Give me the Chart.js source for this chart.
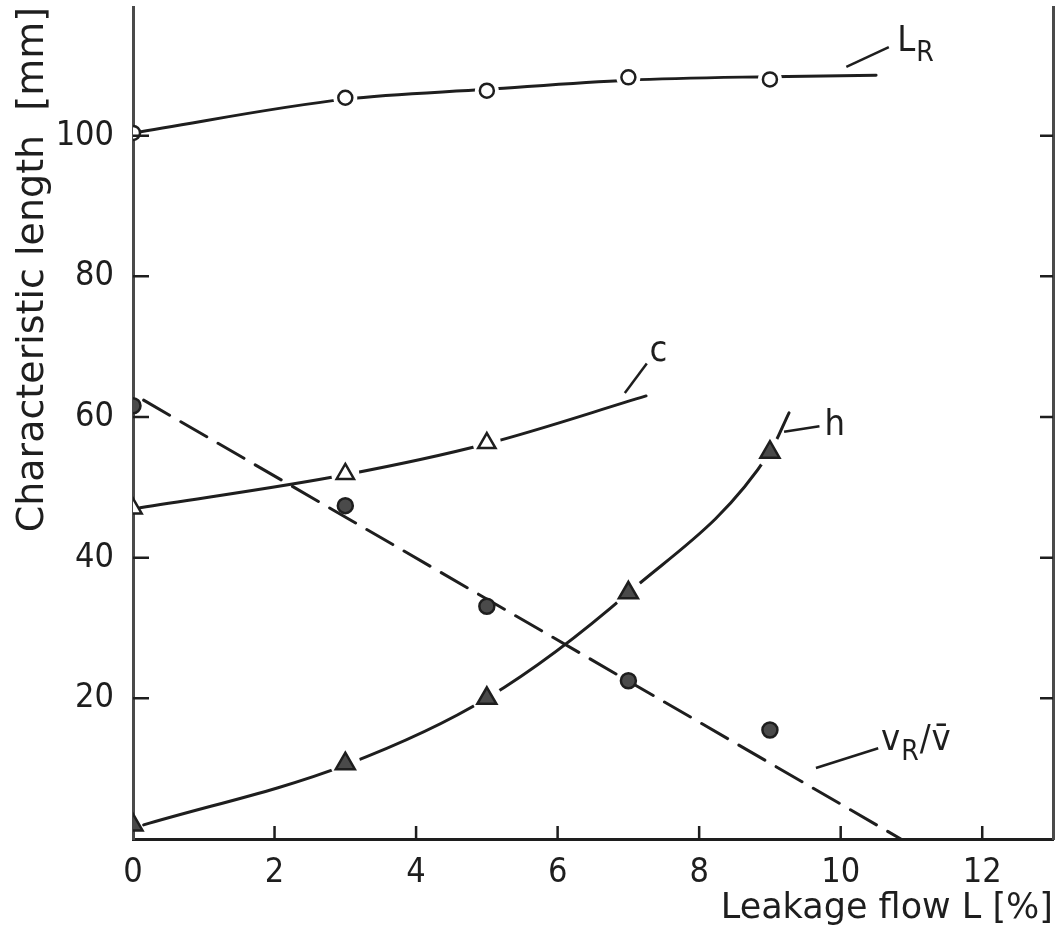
<!DOCTYPE html>
<html>
<head>
<meta charset="utf-8">
<script src="https://cdn.jsdelivr.net/npm/chart.js@4.4.1/dist/chart.umd.min.js"></script>
<style>
 html,body{margin:0;padding:0;background:#fff;overflow:hidden;}
 #wrap{width:1064px;height:934px;position:relative;}
 #chart{display:block;}
</style>
</head>
<body>
<div id="wrap"><canvas id="chart"></canvas></div>
<script>
const FONT = '"DejaVu Sans Condensed", "Liberation Sans", sans-serif';
const TITLE_FONT = '"DejaVu Sans", "Liberation Sans", sans-serif';
const INK = "#1e1e1e";
const AXIS = "#4a4a4a";

// measured points: leakage flow [%] vs characteristic length [mm]
const leakage = [0, 3, 5, 7, 9];
const lR = [100.4, 105.4, 106.4, 108.3, 108.0];
const cLeak = [0, 3, 5];
const cLen = [47, 51.9, 56.3];
const vRatio = [61.6, 47.4, 33.1, 22.5, 15.5];
const hLen = [2, 10.7, 20, 35, 55];

// hand drawn fit curves
const lRCurveX = [0, 3, 5, 7, 9, 10.5];
const lRCurveY = [100.4, 105.2, 106.6, 107.9, 108.4, 108.6];
const cCurveX = [0.1, 3, 5, 7.25];
const cCurveY = [47.1, 51.8, 56.2, 63];
const vCurveX = [0.15, 10.85];
const vCurveY = [62.4, 0];
const hCurveX = [0.15, 3, 5, 7, 9, 9.27];
const hCurveY = [2.0, 10.5, 20, 35, 55, 60.6];

const xTicks = [2, 4, 6, 8, 10, 12];
const yTicks = [20, 40, 60, 80, 100];

// curve tags: text parts [text, isSubscript], anchor and leader line in data units
const curveTags = [
 {parts:[["L",0],["R",1]], x:10.8, y:112.0, from:[10.08,109.8], to:[10.68,112.6]},
 {parts:[["c",0]], x:7.3, y:68.0, from:[6.95,63.4], to:[7.26,67.6]},
 {parts:[["h",0]], x:9.77, y:57.4, from:[9.2,57.9], to:[9.7,58.7]},
 {parts:[["v",0],["R",1],["/",0],["v\u0304",0]], x:10.57, y:12.7, from:[9.65,10.1], to:[10.53,12.9]}
];

const zip = (xs, ys) => xs.map((x,i)=>({x:x, y:ys[i]}));

function curve(xs, ys, dash){
 return {
  type:"scatter", data:zip(xs, ys), showLine:true,
  borderColor:INK, borderWidth:3, borderDash:dash || [],
  borderCapStyle:"round", pointRadius:0,
  cubicInterpolationMode:"monotone", order:3
 };
}

function halo(xs, ys, r){
 return {
  type:"scatter", data:zip(xs, ys), showLine:false,
  pointRadius:ctx => (ctx.raw && ctx.raw.x > 0 ? r : 0),
  pointBackgroundColor:"#fff", pointBorderWidth:0, order:2
 };
}

function marks(xs, ys, style, r, fill){
 return {
  type:"scatter", data:zip(xs, ys), showLine:false,
  pointStyle:style, pointRadius:r,
  pointBackgroundColor:fill, pointBorderColor:INK, pointBorderWidth:2.5,
  order:1
 };
}

// no automatic label overhang padding, the plot box is fixed
function noPad(s){
 s.paddingTop = 0; s.paddingBottom = 0;
 s.paddingLeft = 0; s.paddingRight = 0;
}

const insideTicks = {
 id:"insideTicks",
 afterDatasetsDraw(chart){
  const {ctx, chartArea:a, scales:{x, y}} = chart;
  ctx.save();
  ctx.strokeStyle = INK;
  ctx.lineWidth = 2.5;
  ctx.beginPath();
  xTicks.forEach(v=>{
   const px = x.getPixelForValue(v);
   ctx.moveTo(px, a.bottom); ctx.lineTo(px, a.bottom-13);
  });
  yTicks.forEach(v=>{
   const py = y.getPixelForValue(v);
   ctx.moveTo(a.left, py); ctx.lineTo(a.left+16, py);
   ctx.moveTo(a.right, py); ctx.lineTo(a.right-13, py);
  });
  ctx.stroke();

  // curve tags
  curveTags.forEach(t=>{
   ctx.beginPath();
   ctx.lineWidth = 2.5;
   ctx.moveTo(x.getPixelForValue(t.from[0]), y.getPixelForValue(t.from[1]));
   ctx.lineTo(x.getPixelForValue(t.to[0]), y.getPixelForValue(t.to[1]));
   ctx.stroke();
   let px = x.getPixelForValue(t.x);
   const py = y.getPixelForValue(t.y);
   ctx.fillStyle = INK;
   ctx.textBaseline = "alphabetic";
   ctx.textAlign = "left";
   t.parts.forEach(p=>{
    ctx.font = (p[1] ? "28px " : "36px ") + FONT;
    ctx.fillText(p[0], px, py + (p[1] ? 10 : 0));
    px += ctx.measureText(p[0]).width + 1;
   });
  });
  ctx.restore();
 }
};

new Chart(document.getElementById("chart"),{
 type:"scatter",
 data:{
  datasets:[
   curve(lRCurveX, lRCurveY),
   curve(cCurveX, cCurveY),
   curve(vCurveX, vCurveY, [30, 13]),
   curve(hCurveX, hCurveY),
   halo(leakage, lR, 12),
   halo(cLeak, cLen, 14),
   halo(leakage, hLen, 15),
   marks(leakage, lR, "circle", 7, "#fff"),
   marks(cLeak, cLen, "triangle", 10, "#fff"),
   marks(leakage, vRatio, "circle", 7.5, "#4a4a4a"),
   marks(leakage, hLen, "triangle", 11, "#4a4a4a")
  ]
 },
 options:{
  responsive:true,
  maintainAspectRatio:false,
  animation:false,
  events:[],
  layout:{autoPadding:false, padding:{top:7, right:11, left:0, bottom:0}},
  plugins:{legend:{display:false}, tooltip:{enabled:false}},
  scales:{
   x:{
    type:"linear", min:0, max:13,
    grid:{display:false},
    border:{display:true, color:INK, width:3},
    ticks:{stepSize:2, includeBounds:false, color:INK, padding:6,
           font:{family:FONT, size:34}},
    title:{display:true, text:"Leakage flow L [%]", align:"end", color:INK,
           font:{family:TITLE_FONT, size:35}, padding:{top:0, bottom:4}},
    afterFit(s){ s.height = 95; noPad(s); }
   },
   y:{
    type:"linear", min:0, max:118.3, position:"left",
    grid:{display:false},
    border:{display:true, color:AXIS, width:3},
    ticks:{stepSize:20, includeBounds:false, color:INK, padding:11,
           font:{family:FONT, size:34},
           callback:v => (v === 0 ? "" : v)},
    title:{display:true, text:"Characteristic length  [mm]", align:"end", color:INK,
           font:{family:TITLE_FONT, size:38}, padding:{top:10, bottom:0}},
    afterFit(s){ s.width = 133; noPad(s); }
   },
   y2:{
    type:"linear", min:0, max:118.3, position:"right",
    grid:{display:false},
    border:{display:true, color:AXIS, width:3},
    ticks:{display:false},
    afterFit(s){ s.width = 0; noPad(s); }
   }
  }
 },
 plugins:[insideTicks]
});
</script>
</body>
</html>
